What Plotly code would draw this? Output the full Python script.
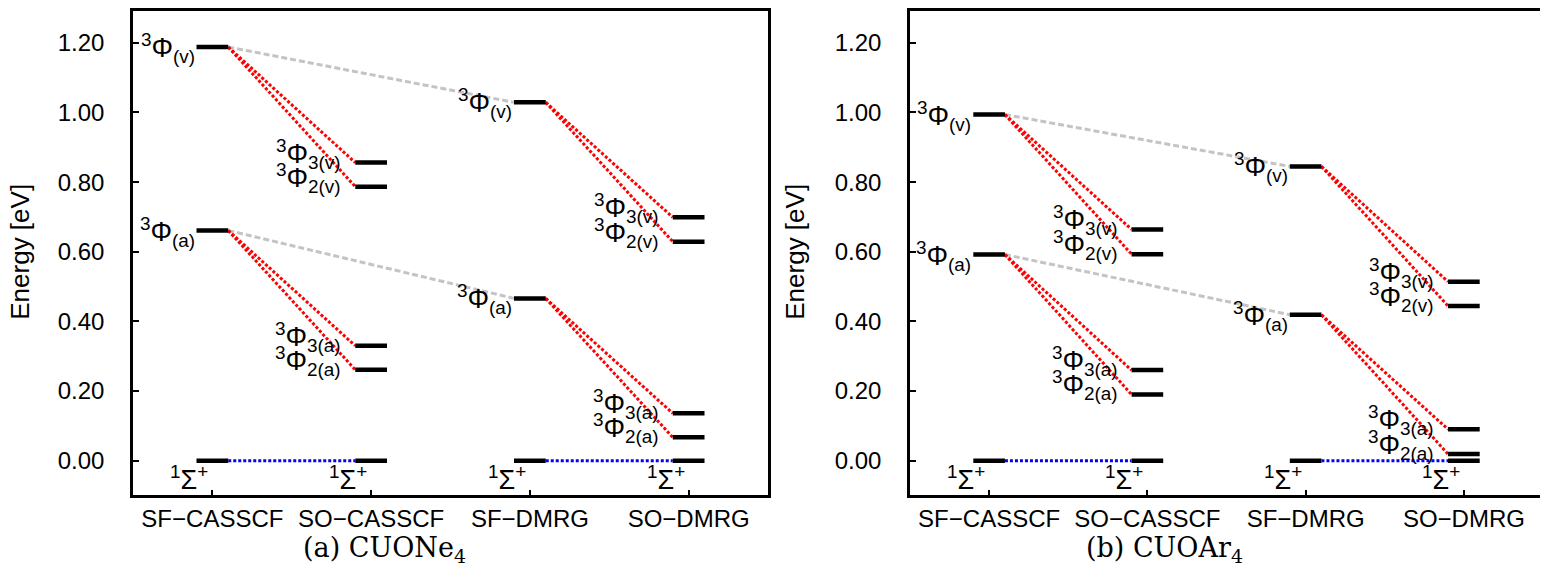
import plotly.graph_objects as go
from plotly.subplots import make_subplots

# x categories and y ticks
methods = ['SF−CASSCF', 'SO−CASSCF', 'SF−DMRG', 'SO−DMRG']
energy_ticks = [0.0, 0.2, 0.4, 0.6, 0.8, 1.0, 1.2]
energy_ticktext = ['%.2f' % e for e in energy_ticks]

# CUONe4 levels [eV]
# SF: 3Phi(v), 3Phi(a), 1Sigma+   SO: 3Phi3(v), 3Phi2(v), 3Phi3(a), 3Phi2(a), 1Sigma+
ne_sf_casscf = [1.188, 0.661, 0.000]
ne_so_casscf = [0.856, 0.787, 0.330, 0.261, 0.000]
ne_sf_dmrg = [1.029, 0.466, 0.000]
ne_so_dmrg = [0.699, 0.629, 0.136, 0.067, 0.000]

# CUOAr4 levels [eV]
ar_sf_casscf = [0.994, 0.592, 0.000]
ar_so_casscf = [0.664, 0.593, 0.260, 0.190, 0.000]
ar_sf_dmrg = [0.845, 0.419, 0.000]
ar_so_dmrg = [0.514, 0.444, 0.090, 0.019, 0.000]

sf_labels = ['<sup>3</sup>Φ<sub>(v)</sub>', '<sup>3</sup>Φ<sub>(a)</sub>', '<sup>1</sup>Σ<sup>+</sup>']
so_labels = ['<sup>3</sup>Φ<sub>3(v)</sub>', '<sup>3</sup>Φ<sub>2(v)</sub>',
             '<sup>3</sup>Φ<sub>3(a)</sub>', '<sup>3</sup>Φ<sub>2(a)</sub>', '<sup>1</sup>Σ<sup>+</sup>']
captions = ['(a) CUONe<sub>4</sub>', '(b) CUOAr<sub>4</sub>']

HW = 0.1  # half width of a level bar (x units)
SANS = 'Liberation Sans, Arial, sans-serif'
LABEL_FONT = dict(family=SANS, size=27, color='black')

W, H = 1548, 575
OFF = 8  # page body margin of the browser


def segs(pairs):
    '''flatten list of ((x0,y0),(x1,y1)) into x, y arrays separated by None'''
    xs, ys = [], []
    for (x0, y0), (x1, y1) in pairs:
        xs += [x0, x1, None]
        ys += [y0, y1, None]
    return xs, ys


def add_panel(fig, col, sf_cas, so_cas, sf_dm, so_dm):
    xr = 'x' if col == 1 else 'x%d' % col
    yr = 'y' if col == 1 else 'y%d' % col
    columns = [sf_cas, so_cas, sf_dm, so_dm]

    # gray: SF-CASSCF -> SF-DMRG
    gray = [((1 + HW, sf_cas[i]), (3 - HW, sf_dm[i])) for i in range(2)]
    # red: spin-orbit splitting, blue: ground state
    red, blue = [], []
    for p, sf, so in [(1, sf_cas, so_cas), (3, sf_dm, so_dm)]:
        for i in range(2):
            for k in range(2):
                red.append(((p + HW, sf[i]), (p + 1 - HW, so[2 * i + k])))
        blue.append(((p + HW, sf[2]), (p + 1 - HW, so[4])))

    for pairs, color, dash in [(gray, '#c4c4c4', '6px,3px'),
                               (red, '#ff0000', '3px,2px'),
                               (blue, '#0000ff', '3px,2px')]:
        xs, ys = segs(pairs)
        fig.add_trace(go.Scatter(x=xs, y=ys, mode='lines', hoverinfo='skip',
                                 line=dict(color=color, width=3, dash=dash)),
                      row=1, col=col)

    # level bars
    bars = []
    for j, levels in enumerate(columns):
        for e in levels:
            bars.append(((j + 1 - HW, e), (j + 1 + HW, e)))
    xs, ys = segs(bars)
    fig.add_trace(go.Scatter(x=xs, y=ys, mode='lines', hoverinfo='skip',
                             line=dict(color='black', width=4.5)), row=1, col=col)

    # level labels
    for j, levels in enumerate(columns):
        labels = sf_labels if j % 2 == 0 else so_labels
        for k, e in enumerate(levels):
            if k == len(levels) - 1:
                # 1Sigma+ below the bar
                fig.add_annotation(x=j + 1, y=e, xref=xr, yref=yr, text=labels[k],
                                   showarrow=False, xanchor='right', yanchor='middle',
                                   xshift=-2, yshift=-17, font=LABEL_FONT)
            elif j % 2 == 0:
                fig.add_annotation(x=j + 1 - HW, y=e, xref=xr, yref=yr, text=labels[k],
                                   showarrow=False, xanchor='right', yanchor='middle',
                                   xshift=0, yshift=-1, font=LABEL_FONT)
            else:
                fig.add_annotation(x=j + 1 - HW, y=e, xref=xr, yref=yr, text=labels[k],
                                   showarrow=False, xanchor='right', yanchor='middle',
                                   xshift=-12, yshift=9, font=LABEL_FONT)


fig = make_subplots(rows=1, cols=2)
add_panel(fig, 1, ne_sf_casscf, ne_so_casscf, ne_sf_dmrg, ne_so_dmrg)
add_panel(fig, 2, ar_sf_casscf, ar_so_casscf, ar_sf_dmrg, ar_so_dmrg)

# frame in page pixels: top 4, bottom 495 -> top clipped to the figure edge,
# y range top trimmed so 350 px per eV is kept
y_top = -0.1 + (495 - OFF) / 350.0
xaxis_style = dict(range=[0.5, 4.5], tickvals=[1, 2, 3, 4], ticktext=methods,
                   ticks='inside', ticklen=6, tickwidth=2, tickcolor='black',
                   showline=True, linewidth=2.5, linecolor='black', mirror=True,
                   showgrid=False, zeroline=False, ticklabelstandoff=0,
                   tickfont=dict(family=SANS, size=24, color='black'))
yaxis_style = dict(range=[-0.1, y_top], tickvals=energy_ticks, ticktext=energy_ticktext,
                   ticks='inside', ticklen=6, tickwidth=2, tickcolor='black',
                   showline=True, linewidth=2.5, linecolor='black', mirror=True,
                   showgrid=False, zeroline=False, ticklabelstandoff=21,
                   tickfont=dict(family=SANS, size=24, color='black'))

ydom = [1 - (495 - OFF) / H, 1.0]
fig.update_layout(
    width=W, height=H, margin=dict(l=0, r=0, t=0, b=0),
    plot_bgcolor='white', paper_bgcolor='white', showlegend=False,
    xaxis=dict(domain=[(133 - OFF) / W, (768 - OFF) / W], **xaxis_style),
    xaxis2=dict(domain=[(910 - OFF) / W, (1543 - OFF) / W], **xaxis_style),
    yaxis=dict(domain=ydom, **yaxis_style),
    yaxis2=dict(domain=ydom, **yaxis_style),
)

# y titles and sub-captions
for xpx in [20, 795]:
    fig.add_annotation(x=(xpx - OFF) / W, y=1 - (250 - OFF) / H, xref='paper', yref='paper',
                       text='Energy [eV]', textangle=-90, showarrow=False,
                       xanchor='center', yanchor='middle',
                       font=dict(family=SANS, size=26, color='black'))
for xpx, cap in zip([384, 1164], captions):
    fig.add_annotation(x=(xpx - OFF) / W, y=1 - (549 - OFF) / H, xref='paper', yref='paper',
                       text=cap, showarrow=False, xanchor='center', yanchor='middle',
                       font=dict(family='DejaVu Serif, serif', size=27, color='black'))

fig.write_html('out.html')
